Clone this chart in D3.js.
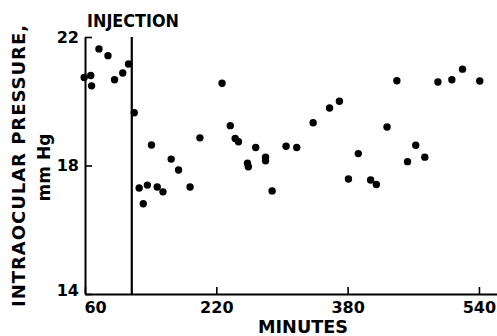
<!DOCTYPE html>
<html>
<head>
<meta charset="utf-8">
<style>
  body { margin: 0; background: #fff; }
  svg text { font-family: "DejaVu Sans", sans-serif; font-weight: bold; fill: #000; }
</style>
<script src="https://cdn.jsdelivr.net/npm/d3@7"></script>
</head>
<body>
<script>
// readings (minutes, mm Hg)
var minutes = [59, 67, 68, 77, 88, 96, 106, 113, 120, 126, 131, 136, 141, 148, 155, 165, 174, 188, 200,
  227, 237, 243, 247, 258, 259, 268, 280, 280, 288, 305, 318, 338, 358, 370, 381, 393, 408, 415,
  428, 440, 453, 463, 474, 490, 507, 520, 541];
var pressure = [20.74, 20.80, 20.48, 21.63, 21.42, 20.67, 20.88, 21.16, 19.64, 17.30, 16.81, 17.39, 18.64,
  17.33, 17.18, 18.20, 17.86, 17.33, 18.86, 20.56, 19.24, 18.84, 18.74, 18.07, 17.96, 18.56, 18.26,
  18.15, 17.21, 18.60, 18.56, 19.33, 19.79, 20.00, 17.58, 18.37, 17.55, 17.41, 19.20, 20.64, 18.12,
  18.63, 18.26, 20.60, 20.67, 21.00, 20.63];
var injectionTime = 117;
var xTicks = [60, 220, 380, 540];
var yTicks = [14, 18, 22];

// set the dimensions and margins of the graph
var full_width = 497;
var full_height = 336;
var margin = {top: 37, right: 0, bottom: 42, left: 85},
  width = full_width - margin.left - margin.right,
  height = full_height - margin.top - margin.bottom;

// set the ranges (x line runs on past 540 to the edge)
var x = d3.scaleLinear()
  .domain([60, 562])
  .range([0, width]);
var y = d3.scaleLinear()
  .domain([14, 22])
  .range([height, 0]);

var root = d3.select("body").append("svg")
  .attr("width", full_width)
  .attr("height", full_height);

var svg = root.append("g")
  .attr("transform", "translate(" + margin.left + "," + margin.top + ")");

// x axis, ticks pointing up into the plot
var x_axis = d3.axisBottom(x)
  .tickValues(xTicks)
  .tickSizeInner(-7)
  .tickSizeOuter(0)
  .tickPadding(8);

var xAxis = svg.append("g")
  .attr("transform", "translate(0," + height + ")")
  .call(x_axis);

// y axis, ticks pointing right
var y_axis = d3.axisLeft(y)
  .tickValues(yTicks)
  .tickSizeInner(-7)
  .tickSizeOuter(0)
  .tickPadding(6);

var yAxis = svg.append("g")
  .call(y_axis);

[xAxis, yAxis].forEach(function(a) {
  a.attr("font-family", null).attr("font-size", null);
  a.select(".domain").attr("stroke", "#000").attr("stroke-width", 2);
  a.selectAll(".tick line").attr("stroke", "#000").attr("stroke-width", 1.6);
  a.selectAll(".tick text").style("font-size", "16px");
});

// first x label sits right of the corner
xAxis.selectAll(".tick text").filter(function(d) { return d === 60; }).attr("x", 10);
yAxis.selectAll(".tick text").filter(function(d) { return d === 14; }).attr("dy", "0.1em");

// injection marker
svg.append("line")
  .attr("x1", x(injectionTime))
  .attr("x2", x(injectionTime))
  .attr("y1", y(22))
  .attr("y2", y(14))
  .attr("stroke", "#000")
  .attr("stroke-width", 2.2);

root.append("text")
  .attr("x", 87)
  .attr("y", 26.5)
  .attr("textLength", 92)
  .attr("lengthAdjust", "spacingAndGlyphs")
  .style("font-size", "17px")
  .text("INJECTION");

// the points
var points = minutes.map(function(m, i) { return {minute: m, value: pressure[i]}; });

svg.selectAll("circle")
  .data(points)
  .enter()
  .append("circle")
  .attr("cx", function(d) { return x(d.minute); })
  .attr("cy", function(d) { return y(d.value); })
  .attr("r", 3.7)
  .attr("fill", "#000");

// axis titles
root.append("text")
  .attr("transform", "translate(25,166) rotate(-90)")
  .attr("text-anchor", "middle")
  .attr("textLength", 282)
  .attr("lengthAdjust", "spacing")
  .style("font-size", "18px")
  .text("INTRAOCULAR PRESSURE,");

root.append("text")
  .attr("transform", "translate(50,167.5) rotate(-90)")
  .attr("text-anchor", "middle")
  .style("font-size", "17px")
  .text("mm Hg");

root.append("text")
  .attr("x", 258)
  .attr("y", 333)
  .attr("textLength", 90)
  .attr("lengthAdjust", "spacingAndGlyphs")
  .style("font-size", "17.5px")
  .text("MINUTES");
</script>
</body>
</html>
